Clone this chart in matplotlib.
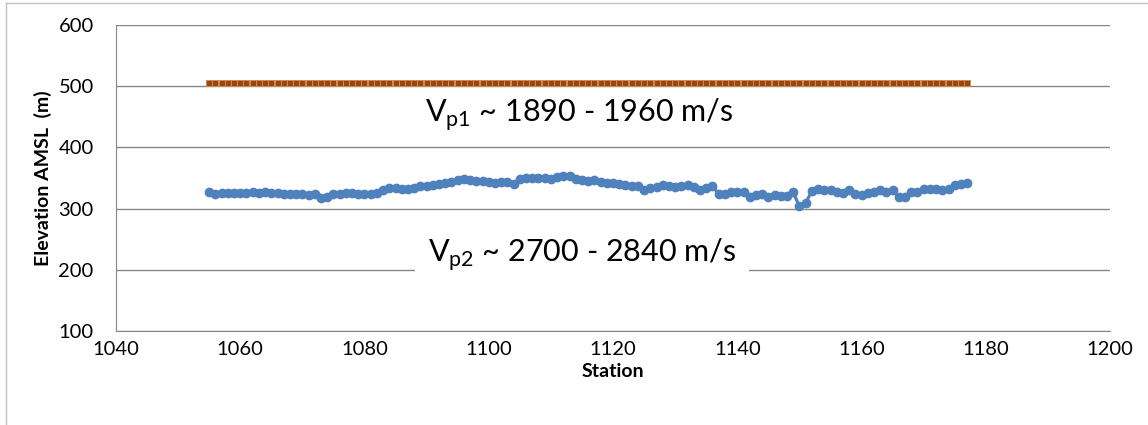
import matplotlib.pyplot as plt
from matplotlib.lines import Line2D
import numpy as np

# station numbers (1 m spacing) and refractor elevations
stations = np.arange(1055, 1178)

layer2_elev = [
    328, 324, 325, 325.6, 326, 325.6, 325.6, 326.7, 326, 327,
    325.6, 325, 324.5, 323.4, 323.4, 323.4, 322.3, 324.5, 318, 319,
    323.4, 324.5, 325.6, 325.6, 324.5, 324.5, 324.5, 325.6, 331, 333.8,
    333, 332.7, 331.5, 334, 336.5, 336.5, 338.7, 339.8, 341.4, 343,
    346.3, 348, 346.3, 345.2, 345.2, 343.6, 342, 344, 344, 340.8,
    349, 349.6, 349.6, 350.7, 349.6, 349, 351.7, 353.4, 353.4, 348.5,
    346.3, 345.2, 346.3, 343.6, 342.5, 342, 341, 338, 337.6, 336.5,
    331, 334, 335.4, 339, 336.5, 335.4, 336.5, 338.7, 335.4, 331,
    334, 336.5, 324.5, 324.5, 327, 327, 326.7, 319, 321.8, 323.4,
    319, 322.3, 320.2, 320.2, 326.7, 303.8, 309.3, 328.9, 332.7, 331,
    330, 327.8, 325, 331, 324.5, 322.3, 326, 326.7, 330, 327,
    330, 319, 319, 326.7, 326.7, 332, 332, 332, 331, 332,
    338.7, 340.8, 342,
]

layer1_elev = [
    505, 505, 505, 505, 505, 505, 505, 505, 505, 505,
    505, 505, 505, 505, 505, 505, 505, 505, 505.5, 505.5,
    505.5, 505.5, 505.5, 505.5, 505.5, 505.5, 505.5, 506, 506, 505.5,
    505.5, 505.5, 505.5, 505.5, 505.5, 505.5, 505.5, 505.5, 505.5, 505.5,
    505.5, 505.5, 505.5, 505.5, 505.5, 505.5, 505.5, 505.5, 505.5, 505.5,
    505.5, 505.5, 505.5, 505.5, 505.5, 505.5, 505.5, 505.5, 505.5, 505.5,
    505.5, 505.5, 505.5, 505.5, 505.5, 505.5, 505.5, 505.5, 505.5, 505.5,
    505.5, 505.5, 505.5, 505.5, 505.5, 505.5, 505.5, 505.5, 505.5, 506,
    506, 506, 506, 506, 506, 506, 506, 506, 506, 506,
    506, 506, 506, 506, 505.5, 505.5, 505.5, 505.5, 505.5, 505.5,
    505.5, 505.5, 505.5, 505.5, 505.5, 505.5, 505.5, 505.5, 505.5, 505.5,
    505.5, 505.5, 505.5, 505.5, 505.5, 505.5, 505.5, 505.5, 505.5, 505.5,
    505.5, 505.5, 505.5,
]

x_ticks = [1040, 1060, 1080, 1100, 1120, 1140, 1160, 1180, 1200]
y_ticks = [100, 200, 300, 400, 500, 600]

plt.rcParams["font.family"] = ["Lato", "DejaVu Sans"]

fig = plt.figure(figsize=(11.48, 4.25), dpi=100)
ax = fig.add_axes([0.101, 0.221, 0.866, 0.720])

ax.plot(stations, layer1_elev, color="#A34D0C", lw=1.8, marker="s", ms=5,
        mfc="#9A470A", mec="#D08A5A", mew=0.7, zorder=3)
ax.plot(stations, layer2_elev, color="#4F81BD", lw=2.3, marker="o", ms=6,
        mec="#4F81BD", zorder=3)

ax.set_xlim(1040, 1200)
ax.set_ylim(100, 600)
ax.set_xticks(x_ticks)
ax.set_yticks(y_ticks)
ax.tick_params(length=0, labelsize=14.5)
ax.tick_params(axis="x", pad=7)
ax.tick_params(axis="y", pad=16)
ax.grid(axis="y", color="#868686", lw=1)
ax.set_axisbelow(True)
for s in ["top", "right"]:
    ax.spines[s].set_visible(False)
for s in ["left", "bottom"]:
    ax.spines[s].set_color("#868686")

ax.set_xlabel("Station", fontsize=14, fontweight="bold", labelpad=4)
ax.set_ylabel("Elevation AMSL  (m)", fontsize=14, fontweight="bold", labelpad=5)

ax.text(1114.5, 453, r"V$_{\mathregular{p1}}$ ~ 1890 - 1960 m/s", fontsize=22,
        ha="center", va="center")
ax.text(1115, 224, r"V$_{\mathregular{p2}}$ ~ 2700 - 2840 m/s", fontsize=22,
        ha="center", va="center",
        bbox=dict(facecolor="white", edgecolor="none", pad=9))

# light outer frame of the chart area
fig.add_artist(Line2D([0.0052, 0.0052], [0, 0.993], color="#BFBFBF", lw=1))
fig.add_artist(Line2D([0.0052, 1], [0.993, 0.993], color="#BFBFBF", lw=1))

fig.savefig("out.png", dpi=100)
